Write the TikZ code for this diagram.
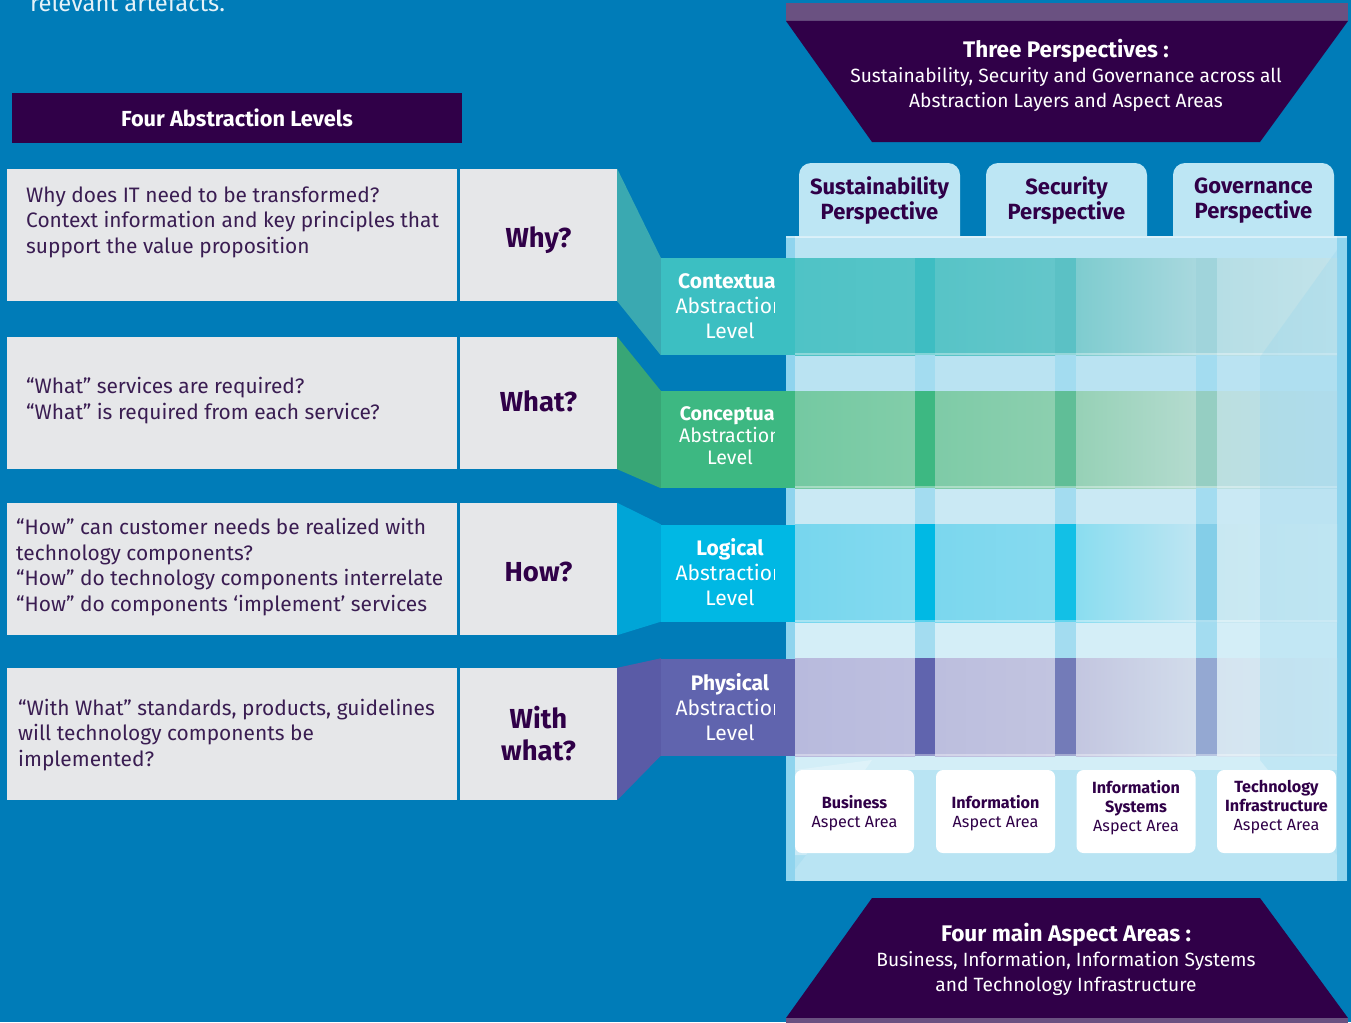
\documentclass[tikz,border=0pt]{standalone}
\usepackage{fontspec}
\setmainfont{Fira Sans}
\definecolor{bg}{HTML}{007CB8}
\definecolor{dpurple}{HTML}{300048}
\definecolor{lpurple}{HTML}{6A5181}
\definecolor{grayc}{HTML}{E6E7E9}
\definecolor{txt}{HTML}{3A1D52}
\definecolor{tabc}{HTML}{BDE6F4}
\definecolor{mbase}{HTML}{B9E4F3}
\definecolor{medge}{HTML}{8FD4EE}
\definecolor{mstrip}{HTML}{A3DCF0}
\definecolor{gapa}{HTML}{BAE3F2}
\definecolor{gapb}{HTML}{CAE9F4}
\definecolor{gapc}{HTML}{D4EEF7}
\definecolor{gapd}{HTML}{D3EEF7}
\definecolor{ceil}{HTML}{BAE4F3}
\definecolor{lab1}{HTML}{3CBFC2}\definecolor{trap1}{HTML}{3AA9B1}
\definecolor{lab2}{HTML}{3DB882}\definecolor{trap2}{HTML}{38A676}
\definecolor{lab3}{HTML}{00B8E4}\definecolor{trap3}{HTML}{00A5D7}
\definecolor{lab4}{HTML}{6064AE}\definecolor{trap4}{HTML}{5A5BA6}
% teal band
\definecolor{tc1a}{HTML}{4FC3C6}\definecolor{tc1b}{HTML}{56C4C7}\definecolor{ts1}{HTML}{3EBDC2}
\definecolor{tc2a}{HTML}{57C4C7}\definecolor{tc2b}{HTML}{64C6CA}\definecolor{ts2}{HTML}{5BC1C5}
\definecolor{tc3a}{HTML}{7ECCCF}\definecolor{tc3b}{HTML}{A8D8DE}\definecolor{ts3}{HTML}{A0D4DB}
\definecolor{tc4a}{HTML}{B6DEE5}\definecolor{tc4b}{HTML}{C2E3EA}
% green band
\definecolor{gc1a}{HTML}{74C9A2}\definecolor{gc1b}{HTML}{82CDA9}\definecolor{gs1}{HTML}{3DB882}
\definecolor{gc2a}{HTML}{7ECBA7}\definecolor{gc2b}{HTML}{8CCFAF}\definecolor{gs2}{HTML}{60BE97}
\definecolor{gc3a}{HTML}{96D1B6}\definecolor{gc3b}{HTML}{B4DBCF}\definecolor{gs3}{HTML}{95CEC2}
\definecolor{gc4a}{HTML}{BBDFDF}\definecolor{gc4b}{HTML}{BAE0EC}
% blue band
\definecolor{bc1a}{HTML}{77D6EE}\definecolor{bc1b}{HTML}{84DAEF}\definecolor{bs1}{HTML}{00B9E4}
\definecolor{bc2a}{HTML}{7BD7EE}\definecolor{bc2b}{HTML}{86DAEF}\definecolor{bs2}{HTML}{12C0E6}
\definecolor{bc3a}{HTML}{8ADDF0}\definecolor{bc3b}{HTML}{BEE5F2}\definecolor{bs3}{HTML}{84CEE8}
\definecolor{bc4a}{HTML}{C8E8F2}\definecolor{bc4b}{HTML}{D0EBF4}
% purple band
\definecolor{pc1a}{HTML}{B8BADD}\definecolor{pc1b}{HTML}{BDBFDF}\definecolor{ps1}{HTML}{6064AE}
\definecolor{pc2a}{HTML}{BCBEDE}\definecolor{pc2b}{HTML}{C2C4E0}\definecolor{ps2}{HTML}{737BB8}
\definecolor{pc3a}{HTML}{C3C6E0}\definecolor{pc3b}{HTML}{D2DCEB}\definecolor{ps3}{HTML}{94A8D2}
\definecolor{pc4a}{HTML}{D5E4F0}\definecolor{pc4b}{HTML}{D4EBF4}
\newcommand\mkband[3]{%
  \shade[left color=#3c1a,right color=#3c1b] (795,#1) rectangle (915,#2);
  \fill[#3s1] (915,#1) rectangle (935,#2);
  \shade[left color=#3c2a,right color=#3c2b] (935,#1) rectangle (1055,#2);
  \fill[#3s2] (1055,#1) rectangle (1076,#2);
  \shade[left color=#3c3a,right color=#3c3b] (1076,#1) rectangle (1196,#2);
  \fill[#3s3] (1196,#1) rectangle (1217,#2);
  \shade[left color=#3c4a,right color=#3c4b] (1217,#1) rectangle (1337,#2);
  \fill[white,opacity=0.35] (795,#2-2) rectangle (1337,#2);}
\tikzset{
  grayboxst/.style={fill=grayc,inner sep=0pt,minimum width=450,minimum height=132,anchor=north west},
  qboxst/.style={fill=grayc,inner sep=0pt,minimum width=157,minimum height=132},
  qtext/.style={text=dpurple,inner sep=0pt,font=\fontsize{27.5}{32}\selectfont\bfseries,align=center},
  lefttext/.style={text=txt,anchor=west,align=left,inner sep=0pt,font=\fontsize{20.9}{25.5}\selectfont},
  labbox/.style={inner sep=0pt,minimum width=134,minimum height=97},
  labtext/.style={text=white,align=center,inner sep=0pt,font=\fontsize{21}{25}\selectfont},
  tabtext/.style={text=dpurple,align=center,inner sep=0pt,font=\fontsize{22}{25}\selectfont\bfseries},
  aspbox/.style={fill=white,rounded corners=7,inner sep=0pt,minimum width=119,minimum height=83},
  asptext/.style={text=dpurple,align=center,inner sep=0pt,font=\fontsize{16.2}{19}\selectfont},
  trapetext/.style={text=white,align=center,inner sep=0pt,font=\fontsize{19.2}{25}\selectfont},
}
\begin{document}
\begin{tikzpicture}[x=1pt,y=-1pt]
\useasboundingbox (0,0) rectangle (1351,1022);
\fill[bg] (0,0) rectangle (1351,1022);
% intro text fragment
\node[anchor=base west,inner sep=0pt,text=white!90!bg,font=\fontsize{23.8}{26}\selectfont] (intro) at (30,12) {relevant artefacts.};
% Four Abstraction Levels header
\node[fill=dpurple,minimum width=450,minimum height=50,inner sep=0pt,text=white,
  font=\fontsize{21.8}{24}\selectfont\bfseries] (fal) at (237,118) {Four Abstraction Levels};
% left gray boxes
\node[grayboxst] (d1) at (7,169) {};
\node[grayboxst] (d2) at (7,337) {};
\node[grayboxst] (d3) at (7,503) {};
\node[grayboxst] (d4) at (7,668) {};
\node[lefttext] (t1) at (26,222) {Why does IT need to be transformed?\\Context information and key principles that\\support the value proposition};
\node[lefttext] (t2) at (26,400.5) {“What” services are required?\\“What” is required from each service?};
\node[lefttext] (t3) at (16,567) {“How” can customer needs be realized with\\technology components?\\“How” do technology components interrelate\\“How” do components ‘implement’ services};
\node[lefttext] (t4) at (18,735) {“With What” standards, products, guidelines\\will technology components be\\implemented?};
% question boxes
\node[qboxst] (q1) at (538.5,235) {};
\node[qboxst] (q2) at (538.5,403) {};
\node[qboxst] (q3) at (538.5,569) {};
\node[qboxst] (q4) at (538.5,734) {};
\node[qtext] (q1t) at (538.5,240) {Why?};
\node[qtext] (q2t) at (538.5,401) {What?};
\node[qtext] (q3t) at (538.5,572) {How?};
\node[qtext] (q4t) at (538.5,734) {With\\what?};
% matrix base
\fill[mbase] (786,236) rectangle (1347,881);
\fill[medge] (786,236) rectangle (795,881);
\fill[medge] (1337,236) rectangle (1347,881);
\fill[gapa] (795,355) rectangle (1337,391);
\fill[gapb] (795,488) rectangle (1337,524);
\fill[gapc] (795,622) rectangle (1337,658);
\fill[gapd] (795,756) rectangle (1337,770);
\foreach \xa/\xb in {915/935,1055/1076,1196/1217}{
  \fill[mstrip] (\xa,258) rectangle (\xb,756);}
\fill[ceil] (795,236) rectangle (1337,258);
\fill[white,opacity=0.5] (786,236) rectangle (1347,238);
% label boxes
\node[labbox,fill=lab1] (l1) at (728,306.5) {};
\node[labbox,fill=lab2] (l2) at (728,439.5) {};
\node[labbox,fill=lab3] (l3) at (728,573) {};
\node[labbox,fill=lab4] (l4) at (728,707) {};
% trapezoid connectors
\fill[trap1] (q1.north east) -- (l1.north west) -- (l1.south west) -- (q1.south east) -- cycle;
\fill[trap2] (q2.north east) -- (l2.north west) -- (l2.south west) -- (q2.south east) -- cycle;
\fill[trap3] (q3.north east) -- (l3.north west) -- (l3.south west) -- (q3.south east) -- cycle;
\fill[trap4] (q4.north east) -- (l4.north west) -- (l4.south west) -- (q4.south east) -- cycle;
% bands
\mkband{258}{355}{t}
\mkband{391}{488}{g}
\mkband{524}{622}{b}
\mkband{658}{756}{p}
% walls
\fill[medge,opacity=0.25] (1347,236) -- (1260,357) -- (1260,760) -- (1337,855) -- (1347,881) -- cycle;
\fill[medge,opacity=0.3] (786,881) -- (806,855) -- (795,855) -- (786,855) -- cycle;
\fill[white,opacity=0.25] (795,770) -- (872,760) -- (806,855) -- (795,855) -- cycle;
% label texts (clipped)
\begin{scope}
\clip (661,240) rectangle (774,770);
\node[labtext] (l1t) at (730,306) {\textbf{Contextual}\\Abstraction\\Level};
\node[labtext,font=\fontsize{19.6}{22}\selectfont] (l2t) at (730,435) {\textbf{Conceptual}\\Abstraction\\Level};
\node[labtext] (l3t) at (730,572.5) {\textbf{Logical}\\Abstraction\\Level};
\node[labtext] (l4t) at (730,707) {\textbf{Physical}\\Abstraction\\Level};
\end{scope}
% perspective tabs
\fill[tabc,rounded corners=12] (799,236) |- (960,163) -- (960,236);
\fill[tabc,rounded corners=12] (986,236) |- (1147,163) -- (1147,236);
\fill[tabc,rounded corners=12] (1173,236) |- (1334,163) -- (1334,236);
\node[tabtext] (p1) at (879.5,200.5) {Sustainability\\Perspective};
\node[tabtext] (p2) at (1066.5,200.5) {Security\\Perspective};
\node[tabtext] (p3) at (1253.5,200.5) {Governance\\Perspective};
% aspect boxes
\node[aspbox] (a1) at (854.5,811.5) {};
\node[aspbox] (a2) at (995.5,811.5) {};
\node[aspbox] (a3) at (1136,811.5) {};
\node[aspbox] (a4) at (1276.5,811.5) {};
\node[asptext] (a1t) at ([yshift=-2]a1.center) {\textbf{Business}\\Aspect Area};
\node[asptext] (a2t) at ([yshift=-2]a2.center) {\textbf{Information}\\Aspect Area};
\node[asptext] (a3t) at ([yshift=4]a3.center) {\textbf{Information}\\\textbf{Systems}\\Aspect Area};
\node[asptext] (a4t) at ([yshift=4]a4.center) {\textbf{Technology}\\\textbf{Infrastructure}\\Aspect Area};
% top trapezoid
\fill[lpurple] (786,3) rectangle (1348,21);
\fill[dpurple] (786,21) -- (1348,21) -- (1260,142) -- (872,142) -- cycle;
\node[trapetext] (tp) at (1066,75.5) {{\fontsize{22.5}{25}\selectfont\bfseries Three Perspectives :}\\Sustainability, Security and Governance across all\\Abstraction Layers and Aspect Areas};
% bottom trapezoid
\fill[dpurple] (872,898) -- (1260,898) -- (1348,1018) -- (786,1018) -- cycle;
\fill[lpurple] (786,1018) rectangle (1348,1024);
\node[trapetext] (bt) at (1066,959) {{\fontsize{22.6}{25}\selectfont\bfseries Four main Aspect Areas :}\\Business, Information, Information Systems\\and Technology Infrastructure};
\end{tikzpicture}
\end{document}
